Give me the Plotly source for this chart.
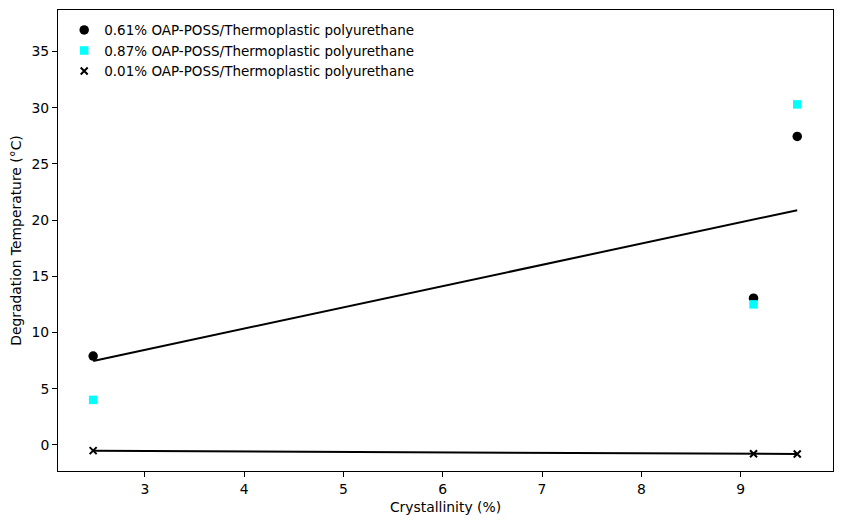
import numpy as np
import plotly.graph_objects as go

crystallinity = [2.48, 9.13, 9.57]
temp_061 = [7.9, 13.05, 27.45]
temp_087 = [4.0, 12.5, 30.3]
temp_001 = [-0.52, -0.8, -0.82]

name_061 = "0.61% OAP-POSS/Thermoplastic polyurethane"
name_087 = "0.87% OAP-POSS/Thermoplastic polyurethane"
name_001 = "0.01% OAP-POSS/Thermoplastic polyurethane"

x = np.array(crystallinity)
fig = go.Figure()
fig.add_trace(go.Scatter(x=crystallinity, y=temp_061, mode="markers", name=name_061,
                         marker=dict(symbol="circle", size=9.5, color="black")))
fig.add_trace(go.Scatter(x=crystallinity, y=temp_087, mode="markers", name=name_087,
                         marker=dict(symbol="square", size=8.5, color="cyan")))
fig.add_trace(go.Scatter(x=crystallinity, y=temp_001, mode="markers", name=name_001,
                         marker=dict(symbol="x-thin", size=7, color="black",
                                     line=dict(width=2, color="black"))))

for ys in (temp_061, temp_001):
    p = np.polyfit(x, np.array(ys), 1)
    xs = [x.min(), x.max()]
    fig.add_trace(go.Scatter(x=xs, y=list(np.polyval(p, xs)), mode="lines",
                             line=dict(color="black", width=2), showlegend=False,
                             hoverinfo="skip"))

axis_common = dict(showgrid=False, zeroline=False, showline=True, linecolor="black",
                   linewidth=1, mirror=True, ticks="outside", ticklen=5, tickwidth=1,
                   tickcolor="black", tickfont=dict(size=13.9, color="black"))

fig.update_layout(
    width=841, height=525,
    margin=dict(l=58, r=8, t=10, b=54),
    plot_bgcolor="white", paper_bgcolor="white",
    font=dict(family="DejaVu Sans", size=13.9, color="black"),
    xaxis=dict(title=dict(text="Crystallinity (%)", font=dict(size=13.9), standoff=6),
               range=[2.126, 9.93], tickvals=[3, 4, 5, 6, 7, 8, 9], **axis_common),
    yaxis=dict(title=dict(text="Degradation Temperature (°C)", font=dict(size=13.9), standoff=6),
               range=[-2.33, 38.7], tickvals=[0, 5, 10, 15, 20, 25, 30, 35], **axis_common),
    legend=dict(x=0.008, y=0.99, xanchor="left", yanchor="top", bgcolor="rgba(255,255,255,0.8)",
                borderwidth=0, font=dict(size=13.5), tracegroupgap=0),
    showlegend=True,
)

fig.write_html("out.html", config={"displayModeBar": False},
               post_script="document.body.style.margin='0';")
